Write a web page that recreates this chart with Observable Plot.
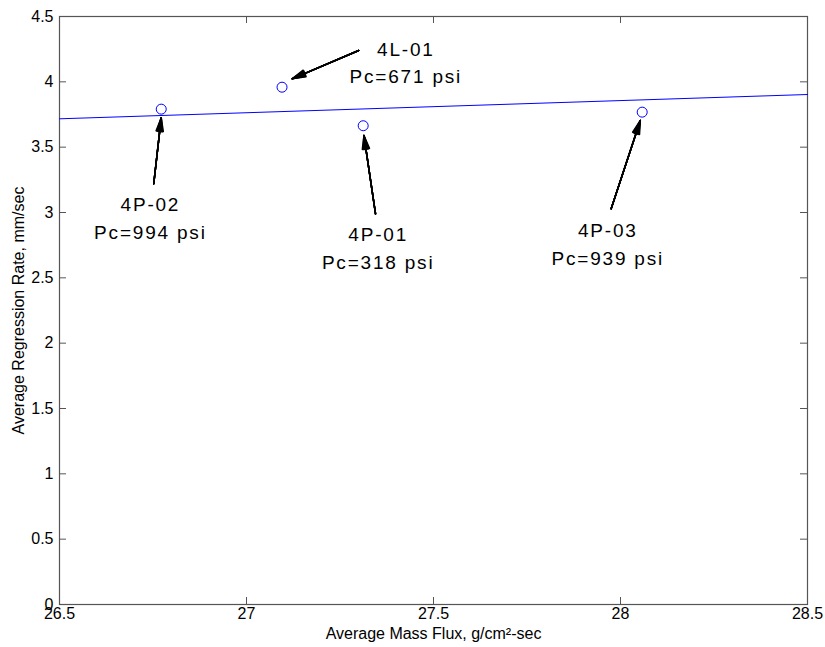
<!DOCTYPE html>
<html>
<head>
<meta charset="utf-8">
<script src="https://cdn.jsdelivr.net/npm/d3@7"></script>
<script src="https://cdn.jsdelivr.net/npm/@observablehq/plot@0.6"></script>
<style>
  html, body { margin: 0; padding: 0; background: #ffffff; }
  #chart svg { display: block; }
  g[aria-label="text"] tspan { letter-spacing: 1.8px; }
</style>
</head>
<body>
<div id="chart"></div>
<script>
// ---- data ----
const runIds = ["4P-02", "4L-01", "4P-01", "4P-03"];
const chamberPressure = [994, 671, 318, 939];           // psi
const massFlux = [26.772, 27.095, 27.312, 28.058];     // g/cm2-sec
const regressionRate = [3.791, 3.959, 3.664, 3.768];   // mm/sec

const fitX = [26.5, 28.5];
const fitY = [3.717, 3.903];

// annotation anchors (data units)
const labelX = [26.743, 27.426, 27.352, 27.966];
const labelY = [2.973, 4.163, 2.741, 2.773];
const arrowTailX = [26.752, 27.300, 27.345, 27.975];
const arrowTailY = [3.220, 4.240, 2.990, 3.028];
const arrowTipX = [26.772, 27.122, 27.314, 28.053];
const arrowTipY = [3.725, 4.023, 3.589, 3.704];

const xTicks = [26.5, 27, 27.5, 28, 28.5];
const yTicks = [0, 0.5, 1, 1.5, 2, 2.5, 3, 3.5, 4, 4.5];

const xLabel = "Average Mass Flux, g/cm\u00B2-sec";
const yLabel = "Average Regression Rate, mm/sec";

// ---- derived tables ----
const idx = d3.range(runIds.length);
const points = idx.map(i => ({x: massFlux[i], y: regressionRate[i]}));
const fit = fitX.map((x, i) => ({x, y: fitY[i]}));
const notes = idx.map(i => ({
  x: labelX[i], y: labelY[i],
  text: `${runIds[i]}\nPc=${chamberPressure[i]} psi`,
  x1: arrowTailX[i], y1: arrowTailY[i], x2: arrowTipX[i], y2: arrowTipY[i]
}));

const W = 825, H = 647;
const mL = 59, mR = 18, mT = 16, mB = 43;
const plotW = W - mL - mR, plotH = H - mT - mB;
const tickLen = 7;
const frameColor = "#555555";

const fanAngles = [0, 6, 12, 18, 24, 30];
const arrowMarks = fanAngles.map(a => Plot.arrow(notes, {
  x1: "x1", y1: "y1", x2: "x2", y2: "y2",
  stroke: "#000000", strokeWidth: 1.5, headLength: 14, headAngle: a
}));

const chart = Plot.plot({
  width: W, height: H,
  marginLeft: mL, marginRight: mR, marginTop: mT, marginBottom: mB,
  style: {fontFamily: "'Liberation Sans', Arial, Helvetica, sans-serif", fontSize: "16px", background: "#ffffff", color: "#000000"},
  x: {domain: [26.5, 28.5], axis: null},
  y: {domain: [0, 4.5], axis: null},
  marks: [
    // inward ticks on all four sides
    Plot.tickX(xTicks, {x: d => d, insetTop: plotH - tickLen, stroke: frameColor}),
    Plot.tickX(xTicks, {x: d => d, insetBottom: plotH - tickLen, stroke: frameColor}),
    Plot.tickY(yTicks, {y: d => d, insetRight: plotW - tickLen, stroke: frameColor}),
    Plot.tickY(yTicks, {y: d => d, insetLeft: plotW - tickLen, stroke: frameColor}),
    Plot.frame({stroke: frameColor, strokeWidth: 1.2}),
    Plot.axisX(xTicks, {tickSize: 0, tickPadding: 3, tickFormat: d => String(d), label: null, fontSize: 16}),
    Plot.axisY(yTicks, {tickSize: 0, tickPadding: 6, tickFormat: d => String(d), label: null, fontSize: 16}),
    // fitted line
    Plot.line(fit, {x: "x", y: "y", stroke: "#0000ff", strokeWidth: 1}),
    // data points
    Plot.dot(points, {x: "x", y: "y", r: 5, stroke: "#0000ff", fill: "none", strokeWidth: 1}),
    // annotation arrows
    ...arrowMarks,
    // annotation texts
    Plot.text(notes, {x: "x", y: "y", text: "text", fontSize: 19, lineHeight: 1.45, textAnchor: "middle", lineAnchor: "middle", fill: "#000000"}),
    // axis titles
    Plot.text([xLabel], {frameAnchor: "bottom", dy: 29, text: d => d, fontSize: 16, textAnchor: "middle", lineAnchor: "middle", fill: "#000000"}),
    Plot.text([yLabel], {frameAnchor: "left", dx: -41, rotate: -90, text: d => d, fontSize: 16, textAnchor: "middle", lineAnchor: "middle", fill: "#000000"})
  ]
});
document.getElementById("chart").appendChild(chart);
</script>
</body>
</html>
